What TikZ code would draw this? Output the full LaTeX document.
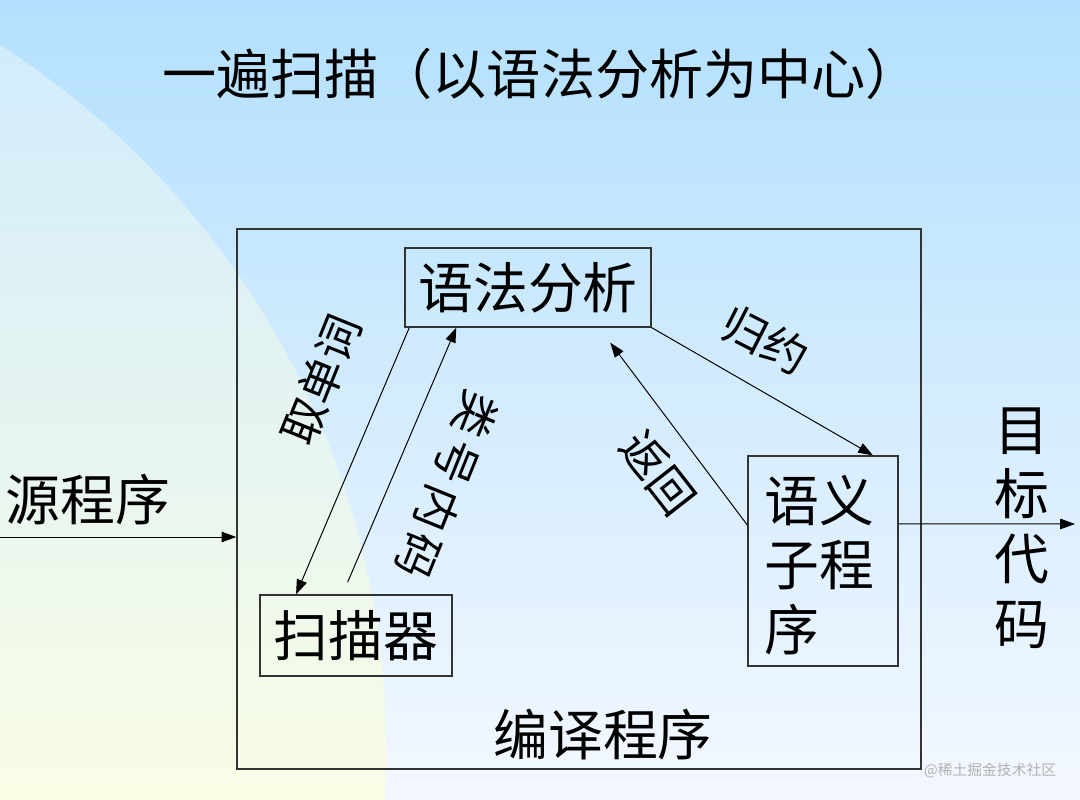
\documentclass[tikz,border=0pt]{standalone}
\usepackage{fontspec}
\setmainfont{Noto Sans CJK SC}
\usetikzlibrary{arrows.meta,calc}
\definecolor{bgtop}{HTML}{B3E0FE}
\definecolor{bgbot}{HTML}{F4F8FF}
\definecolor{ctop}{HTML}{CFEBFD}
\definecolor{cmid}{HTML}{DFF2F4}
\definecolor{cbot}{HTML}{FAFDE6}
\begin{document}
\begin{tikzpicture}[x=0.025cm,y=-0.025cm,
  box/.style={draw=black!80,line width=0.9pt,inner sep=0pt},
  big/.style={font=\fontsize{39}{46}\selectfont},
  lab/.style={font=\fontsize{32}{38}\selectfont},
  arr/.style={draw=black,line width=0.7pt,-{Triangle[length=10.5pt,width=7.5pt]}}]
\useasboundingbox (0,0) rectangle (1080,800);
\shade[top color=bgtop,bottom color=bgbot] (0,0) rectangle (1080,800);
\begin{scope}
  \clip (-450,750) circle[radius=20.9cm];
  \shade[top color=ctop,middle color=cmid,bottom color=cbot] (0,0) rectangle (1080,800);
\end{scope}
\node[font=\fontsize{38.5}{46}\selectfont] (title) at (541,74) {一遍扫描（以语法分析为中心）};
\node[box,minimum width=17.1cm,minimum height=13.5cm] (comp) at (579,499) {};
\node[big] (complab) at (603,735) {编译程序};
\node[box,big,minimum width=6.15cm,minimum height=1.975cm] (syn) at (528,287.5) {\raisebox{-2pt}{语法分析}};
\node[box,big,minimum width=4.8cm,minimum height=2.025cm] (scan) at (356,635.5) {扫描器};
\node[box,minimum width=3.75cm,minimum height=5.25cm] (sem) at (823,561) {};
\node[big,align=left,anchor=west] (semtext) at (760,565) {语义\\子程\\序};
\node[big] (src) at (88,500) {源程序};
\node[big,align=center] (tgtlab) at (1022,528) {目\\标\\代\\码};
\node[lab,rotate=68] (l1) at (321,380) {取单词};
\node[lab,rotate=-112] (l2) at (447,485) {类\hspace{4pt}号\hspace{4pt}内\hspace{4pt}码};
\node[lab,rotate=-52] (l3) at (658,473) {返回};
\node[lab,rotate=-27] (l4) at (765,340) {归约};
\node[font=\fontsize{10.5}{12}\selectfont,text=black!30] (wm) at (990,771) {@稀土掘金技术社区};
\draw[arr] ($(syn.south west)!0.02!(syn.south east)$) -- ($(scan.north west)!0.19!(scan.north east)$);
\draw[arr,shorten <=0.33cm] ($(scan.north west)!0.43!(scan.north east)$) -- ($(syn.south west)!0.21!(syn.south east)$);
\draw[arr,shorten >=0.47cm] ($(sem.north west)!0.33!(sem.south west)$) -- ($(syn.south west)!0.787!(syn.south east)$);
\draw[arr] (syn.south east) -- ($(sem.north west)!0.83!(sem.north east)$);
\coordinate (srcin) at (0,537);
\draw[arr] (srcin) -- (srcin -| comp.west);
\coordinate (tgt) at (1075,524);
\draw[arr] ($(sem.north east)!0.324!(sem.south east)$) -- (tgt);
\end{tikzpicture}
\end{document}
